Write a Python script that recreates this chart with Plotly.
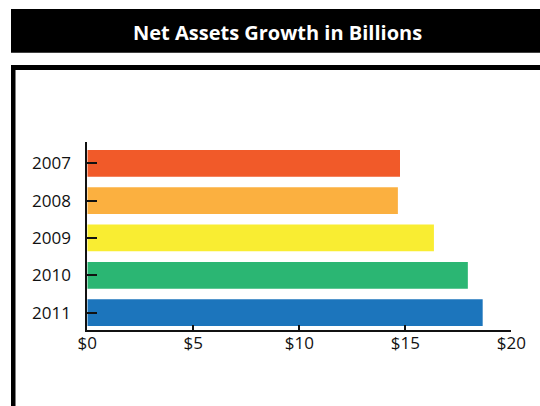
import plotly.graph_objects as go

# Net assets by year, in billions of dollars
years = ["2007", "2008", "2009", "2010", "2011"]
net_assets = [14.75, 14.65, 16.35, 17.95, 18.65]
bar_colors = ["#F15A29", "#FBB040", "#F9ED32", "#2BB673", "#1C75BC"]
x_ticks = [0, 5, 10, 15, 20]
x_tick_labels = ["$0", "$5", "$10", "$15", "$20"]

W, H = 540, 406


def px(x):
    return x / W


def py(y):
    return 1 - y / H


fig = go.Figure(
    go.Bar(
        x=net_assets,
        y=years,
        orientation="h",
        marker=dict(color=bar_colors, line=dict(width=0)),
        hoverinfo="skip",
    )
)

tick_font = dict(family="Open Sans", size=17, color="#111111")

fig.update_layout(
    width=W,
    height=H,
    margin=dict(l=0, r=0, t=0, b=0, pad=0),
    paper_bgcolor="white",
    plot_bgcolor="white",
    showlegend=False,
    bargap=0.284,
    xaxis=dict(
        domain=[px(87.3), px(511.3)],
        range=[0, 20],
        automargin=False,
        tickmode="array",
        tickvals=x_ticks,
        ticktext=x_tick_labels,
        ticks="inside",
        ticklen=5,
        tickwidth=2,
        tickcolor="#111111",
        showline=True,
        linecolor="#111111",
        linewidth=2,
        showgrid=False,
        zeroline=False,
        tickfont=tick_font,
        ticklabelstandoff=-4,
        fixedrange=True,
    ),
    yaxis=dict(
        domain=[py(330.3), py(142)],
        type="category",
        categoryorder="array",
        categoryarray=years,
        range=[4.475, -0.572],
        automargin=False,
        ticks="inside",
        ticklen=10,
        tickwidth=2,
        tickcolor="#111111",
        showline=True,
        linecolor="#111111",
        linewidth=2,
        showgrid=False,
        zeroline=False,
        tickfont=tick_font,
        ticklabelstandoff=11,
        fixedrange=True,
    ),
    shapes=[
        # title banner
        dict(type="rect", xref="paper", yref="paper",
             x0=px(11), x1=1, y0=py(52.7), y1=py(9),
             fillcolor="black", line=dict(width=0), layer="below"),
        # frame: top rule
        dict(type="rect", xref="paper", yref="paper",
             x0=px(11), x1=1, y0=py(70), y1=py(65),
             fillcolor="black", line=dict(width=0), layer="below"),
        # frame: left rule
        dict(type="rect", xref="paper", yref="paper",
             x0=px(11), x1=px(15.5), y0=0, y1=py(65),
             fillcolor="black", line=dict(width=0), layer="below"),
    ],
    annotations=[
        dict(text="<b>Net Assets Growth in Billions</b>",
             xref="paper", yref="paper", x=px(277), y=py(32),
             xanchor="center", yanchor="middle", showarrow=False,
             font=dict(family="Open Sans", size=20, color="white")),
    ],
)

fig.write_html("out.html", config={"displayModeBar": False})
